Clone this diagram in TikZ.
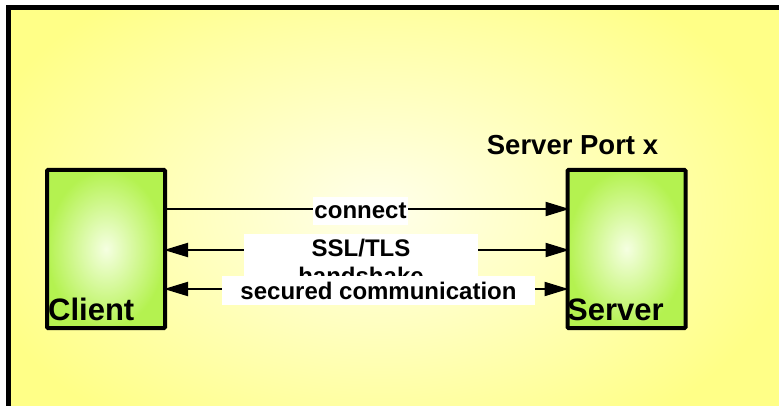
\documentclass[tikz,border=0pt]{standalone}
\usepackage{fontspec}
\setmainfont{Liberation Sans}
\usetikzlibrary{arrows.meta}
\definecolor{bgout}{RGB}{255,255,135}
\definecolor{bgin}{RGB}{255,255,235}
\definecolor{gout}{RGB}{180,242,80}
\definecolor{gin}{RGB}{245,255,225}
\begin{document}
\begin{tikzpicture}[x=1pt,y=-1pt,
  box/.style={draw=black, line width=4pt, rounded corners=1pt, inner color=gin, outer color=gout, minimum width=118pt, minimum height=158pt, inner sep=0pt},
  msg/.style={line width=2pt, draw=black},
  tip/.tip={Triangle[length=24pt,width=14pt]},
  lbl/.style={fill=white, inner sep=0pt, font=\fontsize{24}{28}\selectfont\bfseries},
  big/.style={font=\fontsize{31}{36}\selectfont\bfseries, inner sep=0pt},
]
\useasboundingbox (0,0) rectangle (779,406);
\fill[white] (0,0) rectangle (779,406);
\begin{scope}
  \clip (8.5,7.5) rectangle (790,408);
  \fill[bgout] (8.5,7.5) rectangle (790,408);
  \shade[inner color=bgin, outer color=bgout] (380,210) ellipse (420 and 270);
\end{scope}
\draw[line width=5pt] (8.5,7.5) rectangle (790,408);

\node[box] (client) at (106,249) {};
\node[box] (server) at (626.5,249) {};
\node[big, anchor=base west] (clientlbl) at (48,320) {Client};
\node[big, anchor=base west] (serverlbl) at (567,320) {Server};
\node[font=\fontsize{27.5}{32}\selectfont\bfseries, inner sep=0pt, anchor=base] (port) at (572.5,155) {Server Port x};

\draw[msg, -tip] ([yshift=40pt]client.east) -- ([yshift=40pt, xshift=4pt]server.west);
\draw[msg, tip-tip] ([yshift=-1pt, xshift=-3pt]client.east) -- ([yshift=-1pt, xshift=4pt]server.west);
\draw[msg, tip-tip] ([yshift=-40pt, xshift=-3pt]client.east) -- ([yshift=-40pt, xshift=3pt]server.west);

\node[lbl, minimum width=95pt, minimum height=28pt] (connect) at (360.5,211) {connect};
\node[lbl, anchor=north, minimum width=234pt, inner ysep=5pt, align=center] (ssl) at (361,234) {SSL/TLS\\handshake};
\node[lbl, minimum width=313pt, minimum height=29pt] (secured) at (378.5,290.5) {secured communication};
\end{tikzpicture}
\end{document}
